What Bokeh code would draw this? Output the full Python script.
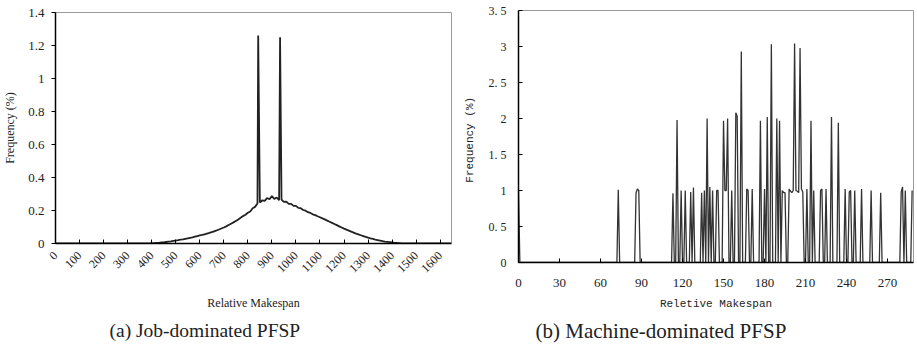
import math
from bokeh.plotting import figure
from bokeh.layouts import row, column
from bokeh.models import FixedTicker, Range1d, Title
from bokeh.embed import file_html
from bokeh.resources import INLINE

# ---------------- (a) Job-dominated PFSP ----------------
job_x_ticks = list(range(0, 1700, 100))
job_y_ticks = [0, 0.2, 0.4, 0.6, 0.8, 1.0, 1.2, 1.4]
job_curve_start = 380
job_curve_step = 10
job_curve = [
    0.000, 0.001, 0.002, 0.002, 0.003, 0.004, 0.006, 0.007, 0.009, 0.011,
    0.013, 0.016, 0.018, 0.020, 0.023, 0.025, 0.028, 0.031, 0.034, 0.037,
    0.041, 0.045, 0.049, 0.052, 0.056, 0.060, 0.064, 0.069, 0.074, 0.079,
    0.085, 0.091, 0.097, 0.104, 0.112, 0.120, 0.128, 0.137, 0.146, 0.156,
    0.166, 0.174, 0.186, 0.194, 0.214, 0.222, 0.243, 0.248, 0.262, 0.258,
    0.276, 0.268, 0.287, 0.270, 0.279, 0.262, 0.266, 0.252, 0.254, 0.240,
    0.240, 0.228, 0.228, 0.216, 0.214, 0.203, 0.199, 0.190, 0.185, 0.177,
    0.172, 0.165, 0.159, 0.152, 0.146, 0.139, 0.132, 0.125, 0.118, 0.111,
    0.104, 0.097, 0.090, 0.084, 0.078, 0.072, 0.066, 0.060, 0.055, 0.050,
    0.045, 0.040, 0.035, 0.031, 0.028, 0.024, 0.021, 0.018, 0.015, 0.012,
    0.010, 0.008, 0.006, 0.004, 0.003, 0.002, 0.001, 0.001, 0.000,
]
job_spike_x = [843, 934]
job_spike_y = [1.26, 1.25]
job_x_end = 1645

# ---------------- (b) Machine-dominated PFSP ----------------
mach_x_ticks = [0, 30, 60, 90, 120, 150, 180, 210, 240, 270]
mach_y_ticks = [0, 0.5, 1, 1.5, 2, 2.5, 3, 3.5]
mach_y_labels = ["0", "0. 5", "1", "1. 5", "2", "2. 5", "3", "3. 5"]
mach_x_max = 289
mach_nz_x = [0, 73, 86, 87, 88, 113, 116, 119, 122, 126, 128, 134, 136, 138,
             140, 142, 145, 146, 150, 151, 152, 153, 156, 159, 160, 163, 167,
             168, 171, 177, 180, 182, 185, 189, 191, 193, 194, 195, 198, 199,
             200, 201, 202, 203, 204, 205, 206, 207, 208, 211, 214, 216, 221,
             222, 225, 229, 234, 239, 242, 243, 246, 251, 258, 265, 280, 281,
             283, 288]
mach_nz_y = [1.0, 1.01, 0.97, 1.02, 1.0, 0.96, 1.98, 1.0, 1.0, 0.98, 1.04, 0.97, 1.0, 2.0,
             1.05, 1.0, 1.0, 1.0, 1.97, 1.0, 1.0, 2.0, 1.0, 2.08, 2.03, 2.93, 1.02,
             1.0, 1.02, 1.97, 1.02, 2.02, 3.03, 2.0, 1.97, 1.0, 0.97, 0.97, 1.02, 0.99,
             0.97, 1.0, 3.04, 1.0, 0.99, 0.97, 2.98, 1.02, 0.98, 1.02, 1.97, 1.0, 1.0,
             1.02, 1.02, 2.02, 1.94, 1.02, 0.98, 1.0, 1.0, 1.02, 1.0, 0.97, 0.98, 1.05,
             1.0, 1.0]

# ---------------- build series ----------------
pts = [(0, 0.0)]
pts += [(job_curve_start + i * job_curve_step, v) for i, v in enumerate(job_curve)]
pts += list(zip(job_spike_x, job_spike_y))
pts += [(job_x_end, 0.0)]
pts.sort(key=lambda t: t[0])
jx = [p[0] for p in pts]
jy = [p[1] for p in pts]

mx = list(range(0, mach_x_max))
lookup = dict(zip(mach_nz_x, mach_nz_y))
my = [lookup.get(x, 0.0) for x in mx]

SERIF = "Liberation Serif"
MONO = "Liberation Mono"


def style_common(p):
    p.xgrid.visible = False
    p.ygrid.visible = False
    p.outline_line_color = "#9a9a9a"
    p.outline_line_width = 1
    p.background_fill_color = "white"
    p.border_fill_color = "white"
    for ax in (p.xaxis[0], p.yaxis[0]):
        ax.axis_line_color = "black"
        ax.axis_line_width = 1.5
        ax.major_tick_line_color = "black"
        ax.major_tick_line_width = 1
        ax.minor_tick_line_color = None
        ax.major_label_text_color = "#222222"
        ax.axis_label_text_color = "#222222"
        ax.axis_label_text_font_style = "normal"


# ---------- left figure ----------
p1 = figure(width=460, height=348, output_backend="svg", toolbar_location=None,
            x_range=Range1d(0, 1647), y_range=Range1d(0, 1.4),
            min_border_left=54, min_border_right=9, min_border_top=12,
            min_border_bottom=105)
p1.line(jx, jy, line_color="#222222", line_width=1.8)
style_common(p1)
p1.xaxis.ticker = FixedTicker(ticks=job_x_ticks)
p1.yaxis.ticker = FixedTicker(ticks=job_y_ticks)
p1.yaxis.major_label_overrides = {t: ("%g" % t) for t in job_y_ticks}
p1.xaxis.major_label_orientation = math.pi / 4
p1.xaxis.major_tick_in = 4
p1.xaxis.major_tick_out = 0
p1.yaxis.major_tick_in = 0
p1.yaxis.major_tick_out = 4
p1.xaxis.major_label_standoff = 10
p1.yaxis.major_label_standoff = 7
p1.xaxis.major_label_text_font = SERIF
p1.yaxis.major_label_text_font = SERIF
p1.xaxis.major_label_text_font_size = "12px"
p1.yaxis.major_label_text_font_size = "13px"
p1.xaxis.axis_label = "Relative Makespan"
p1.yaxis.axis_label = "Frequency (%)"
p1.xaxis.axis_label_text_font = SERIF
p1.yaxis.axis_label_text_font = SERIF
p1.xaxis.axis_label_text_font_size = "12px"
p1.yaxis.axis_label_text_font_size = "12px"
p1.xaxis.axis_label_standoff = 17
p1.yaxis.axis_label_standoff = 8
p1.add_layout(Title(text="(a) Job-dominated PFSP", align="left", offset=54,
                    standoff=9, text_font=SERIF, text_font_size="19.5px",
                    text_font_style="normal", text_color="#222222"), "below")

# ---------- right figure ----------
p2 = figure(width=457, height=348, output_backend="svg", toolbar_location=None,
            x_range=Range1d(0, mach_x_max), y_range=Range1d(0, 3.5),
            min_border_left=57, min_border_right=4, min_border_top=10,
            min_border_bottom=86)
p2.line(mx, my, line_color="#333333", line_width=1.3)
style_common(p2)
p2.xaxis.ticker = FixedTicker(ticks=mach_x_ticks)
p2.yaxis.ticker = FixedTicker(ticks=mach_y_ticks)
p2.yaxis.major_label_overrides = dict(zip(mach_y_ticks, mach_y_labels))
p2.xaxis.major_tick_in = 4
p2.xaxis.major_tick_out = 0
p2.yaxis.major_tick_in = 4
p2.yaxis.major_tick_out = 0
p2.xaxis.major_label_standoff = 16
p2.yaxis.major_label_standoff = 12
p2.xaxis.major_label_text_font = SERIF
p2.yaxis.major_label_text_font = SERIF
p2.xaxis.major_label_text_font_size = "13px"
p2.yaxis.major_label_text_font_size = "12px"
p2.xaxis.axis_label = "Reletive Makespan"
p2.yaxis.axis_label = "Frequency  (%)"
p2.xaxis.axis_label_text_font = MONO
p2.yaxis.axis_label_text_font = MONO
p2.xaxis.axis_label_text_font_size = "11px"
p2.yaxis.axis_label_text_font_size = "11px"
p2.xaxis.axis_label_standoff = 8
p2.yaxis.axis_label_standoff = 10
p2.add_layout(Title(text="(b) Machine-dominated PFSP", align="left", offset=17,
                    standoff=9, text_font=SERIF, text_font_size="21px",
                    text_font_style="normal", text_color="#222222"), "below")

layout = row(column(p1), column(p2))
open("out.html", "w").write(file_html(layout, INLINE))
